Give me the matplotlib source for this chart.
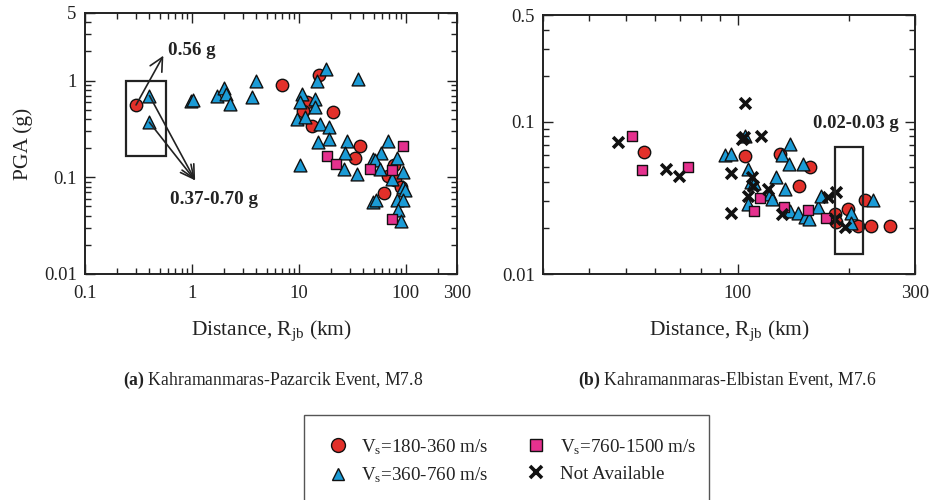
import matplotlib
matplotlib.use("Agg")
import matplotlib.pyplot as plt
from matplotlib.lines import Line2D
from matplotlib.patches import Rectangle
from matplotlib.ticker import LogLocator, FixedLocator, NullFormatter, FixedFormatter

plt.rcParams['font.family'] = ['Liberation Serif', 'DejaVu Serif']
plt.rcParams['mathtext.fontset'] = 'custom'
plt.rcParams['mathtext.rm'] = 'Liberation Serif'
plt.rcParams['mathtext.it'] = 'Liberation Serif:italic'
plt.rcParams['mathtext.bf'] = 'Liberation Serif:bold'

# ---------------- Panel (a): Kahramanmaras-Pazarcik, M7.8 ----------------
a_red_x = [0.30, 6.9, 11.8, 11.0, 13.1, 15.3, 21, 33.6, 37, 62.5, 68, 78, 79, 89]
a_red_y = [0.56, 0.90, 0.60, 0.48, 0.34, 1.13, 0.47, 0.16, 0.21, 0.068, 0.104, 0.133, 0.093, 0.080]

a_blue_x = [0.40, 0.40, 0.98, 1.02, 1.70, 1.99, 2.1, 2.26, 3.66, 3.96, 10.6, 10.2, 9.5, 11.3,
            10.2, 14.1, 14.1, 14.6, 17.9, 15.7, 18.9, 18.9, 15.0, 27.9, 26.9, 26.4, 34.6, 36,
            68, 59, 48.8, 51, 82, 57, 93, 73.5, 94.5, 98, 49.5, 53, 82, 94.5, 85, 89]
a_blue_y = [0.70, 0.37, 0.62, 0.63, 0.70, 0.84, 0.72, 0.575, 0.68, 1.0, 0.73, 0.60, 0.40, 0.42,
            0.133, 0.65, 0.53, 1.0, 1.32, 0.36, 0.33, 0.25, 0.23, 0.24, 0.18, 0.123, 0.109, 1.04,
            0.24, 0.18, 0.155, 0.15, 0.16, 0.123, 0.114, 0.097, 0.080, 0.074, 0.056, 0.058, 0.058,
            0.058, 0.046, 0.035]

a_mag_x = [18.4, 22, 46, 73.5, 94.5, 73.5]
a_mag_y = [0.166, 0.138, 0.123, 0.118, 0.21, 0.037]

# ---------------- Panel (b): Kahramanmaras-Elbistan, M7.6 ----------------
b_red_x = [56, 105, 130, 157, 146, 182.6, 184, 198, 211, 220, 229, 257]
b_red_y = [0.063, 0.059, 0.061, 0.0507, 0.038, 0.0248, 0.0218, 0.0267, 0.0207, 0.0306, 0.0207, 0.0207]

b_blue_x = [92.3, 96, 104.8, 107, 109, 110.5, 106.6, 122, 127, 124, 134, 138, 132, 137.5, 150,
            138, 145, 152, 156, 165, 168, 202, 202, 231]
b_blue_y = [0.060, 0.061, 0.080, 0.049, 0.040, 0.0395, 0.029, 0.0334, 0.043, 0.031, 0.036, 0.071,
            0.060, 0.0525, 0.0525, 0.026, 0.0253, 0.0235, 0.023, 0.0274, 0.0326, 0.025, 0.0215, 0.0306]

b_mag_x = [52, 55.5, 73.5, 115, 110.6, 133, 155, 173]
b_mag_y = [0.081, 0.048, 0.050, 0.0315, 0.026, 0.0277, 0.0264, 0.0233]

b_na_x = [47.6, 64.4, 69.8, 96, 96, 105, 104.4, 103, 109.5, 110, 106.6, 116, 120.7, 132, 175,
          184, 182.6, 195]
b_na_y = [0.073, 0.049, 0.044, 0.046, 0.025, 0.133, 0.079, 0.077, 0.043, 0.038, 0.0326, 0.081,
          0.036, 0.0247, 0.0318, 0.0343, 0.023, 0.0204]

legend_labels = [r'V$_\mathregular{s}$=180-360 m/s', r'V$_\mathregular{s}$=360-760 m/s',
                 r'V$_\mathregular{s}$=760-1500 m/s', 'Not Available']
a_xticks = [0.1, 1, 10, 100, 300]
a_yticks = [0.01, 0.1, 1, 5]
b_xticks = [100, 300]
b_yticks = [0.01, 0.1, 0.5]

RED = '#e2302a'
BLUE = '#1b9bd6'
MAG = '#e5318e'
INK = '#222222'

fig = plt.figure(figsize=(9.3, 5.0), dpi=100)
ax1 = fig.add_axes([85/930, 1-274/500, 372/930, 261/500])
ax2 = fig.add_axes([543/930, 1-274/500, 372/930, 259/500])

def style(ax, xlim, ylim, xticks, yticks):
    ax.set_xscale('log')
    ax.set_yscale('log')
    ax.set_xlim(*xlim)
    ax.set_ylim(*ylim)
    ax.xaxis.set_major_locator(FixedLocator(xticks))
    ax.xaxis.set_major_formatter(FixedFormatter([('%g' % t) for t in xticks]))
    ax.yaxis.set_major_locator(FixedLocator(yticks))
    ax.yaxis.set_major_formatter(FixedFormatter([('%g' % t) for t in yticks]))
    ax.xaxis.set_minor_locator(LogLocator(base=10, subs=range(2, 10), numticks=20))
    ax.yaxis.set_minor_locator(LogLocator(base=10, subs=range(2, 10), numticks=20))
    ax.xaxis.set_minor_formatter(NullFormatter())
    ax.yaxis.set_minor_formatter(NullFormatter())
    ax.tick_params(which='both', direction='in', top=True, right=True, labelsize=13.5,
                   width=1.0, colors=INK, labelcolor=INK)
    ax.tick_params(which='major', length=7)
    ax.tick_params(which='minor', length=4)
    ax.tick_params(axis='x', which='major', pad=8)
    ax.tick_params(axis='y', which='major', pad=6)
    for s in ax.spines.values():
        s.set_linewidth(1.4)
        s.set_color(INK)
    ax.set_xlabel(r'Distance, R$_\mathregular{jb}$ (km)', fontsize=15.5, labelpad=12, color=INK)

ms = dict(edgecolors='#111111', linewidths=1.0)

# Panel (a)
style(ax1, (0.1, 300), (0.01, 5), a_xticks, a_yticks)
ax1.scatter(a_red_x, a_red_y, marker='o', s=80, c=RED, **ms, zorder=3)
ax1.scatter(a_blue_x, a_blue_y, marker='^', s=85, c=BLUE, **ms, zorder=4)
ax1.scatter(a_mag_x, a_mag_y, marker='s', s=60, c=MAG, **ms, zorder=5)
ax1.set_ylabel('PGA (g)', fontsize=15.5, labelpad=8, color=INK)
ax1.add_patch(Rectangle((0.24, 0.165), 0.57-0.24, 0.98-0.165, fill=False,
                        edgecolor=INK, lw=1.6, zorder=2))
arrow = dict(arrowstyle='->', lw=1.2, color=INK, mutation_scale=24, shrinkA=0, shrinkB=0)
ax1.annotate('', xy=(0.54, 1.81), xytext=(0.30, 0.56), arrowprops=arrow, zorder=6)
ax1.annotate('', xy=(1.07, 0.093), xytext=(0.40, 0.70), arrowprops=arrow, zorder=6)
ax1.annotate('', xy=(1.07, 0.093), xytext=(0.40, 0.37), arrowprops=arrow, zorder=6)
ax1.text(0.6, 2.07, '0.56 g', fontsize=13.7, fontweight='bold', va='center', ha='left', color=INK)
ax1.text(0.62, 0.059, '0.37-0.70 g', fontsize=13.7, fontweight='bold', va='center', ha='left', color=INK)

# Panel (b)
style(ax2, (30, 300), (0.01, 0.5), b_xticks, b_yticks)
ax2.scatter(b_red_x, b_red_y, marker='o', s=80, c=RED, **ms, zorder=3)
ax2.scatter(b_blue_x, b_blue_y, marker='^', s=85, c=BLUE, **ms, zorder=4)
ax2.scatter(b_mag_x, b_mag_y, marker='s', s=60, c=MAG, **ms, zorder=5)
ax2.scatter(b_na_x, b_na_y, marker='x', s=60, c='#111111', linewidths=2.6, zorder=6)
ax2.add_patch(Rectangle((182.4, 0.0136), 217-182.4, 0.0676-0.0136, fill=False,
                        edgecolor=INK, lw=1.6, zorder=7))
ax2.text(208, 0.097, '0.02-0.03 g', fontsize=13.4, fontweight='bold', va='center', ha='center',
         color=INK, zorder=8)

# Panel titles
fig.text(273/930, 1-380/500, r'$\mathbf{(a)}$ Kahramanmaras-Pazarcik Event, M7.8',
         ha='center', va='center', fontsize=12.7, color=INK)
fig.text(727/930, 1-380/500, r'$\mathbf{(b)}$ Kahramanmaras-Elbistan Event, M7.6',
         ha='center', va='center', fontsize=12.7, color=INK)

# Legend
fig.patches.append(Rectangle((304/930, -0.05), 405/930, 0.17+0.05, transform=fig.transFigure,
                             fill=False, edgecolor='#555555', lw=1.0, figure=fig))
handles = [
    Line2D([], [], ls='none', marker='o', ms=10, mfc=RED, mec='#111111', mew=1.0),
    Line2D([], [], ls='none', marker='^', ms=9, mfc=BLUE, mec='#111111', mew=1.0),
    Line2D([], [], ls='none', marker='s', ms=8, mfc=MAG, mec='#111111', mew=1.0),
    Line2D([], [], ls='none', marker='x', ms=8, mec='#111111', mew=2.6),
]
fig.legend(handles, legend_labels, ncol=2, loc='upper left',
           bbox_to_anchor=(328/930, 1-437/500), frameon=False, fontsize=13.7,
           handlelength=1.0, handletextpad=0.75, columnspacing=2.0, labelspacing=0.45,
           borderpad=0, borderaxespad=0, labelcolor=INK)

fig.savefig('out.png', dpi=100)
